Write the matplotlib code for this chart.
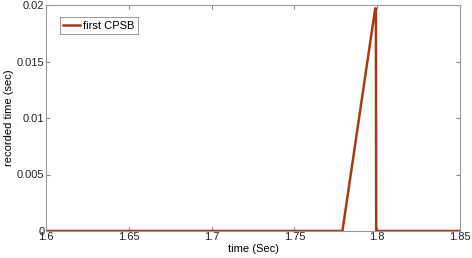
import matplotlib
matplotlib.use("Agg")
import matplotlib.pyplot as plt

time_s = [1.6, 1.779, 1.7988, 1.7992, 1.7994, 1.85]
recorded = [0.0, 0.0, 0.0197, 0.0197, 0.0, 0.0]
xticks = [1.6, 1.65, 1.7, 1.75, 1.8, 1.85]
xticklabels = ["1.6", "1.65", "1.7", "1.75", "1.8", "1.85"]
yticks = [0, 0.005, 0.01, 0.015, 0.02]
yticklabels = ["0", "0.005", "0.01", "0.015", "0.02"]

plt.rcParams['font.family'] = ['Liberation Sans', 'DejaVu Sans']
fig = plt.figure(figsize=(4.72, 2.58), dpi=100)
ax = fig.add_axes([46/472, 1-231/258, 414/472, 226/258])
ax.plot(time_s, recorded, color='#A83A12', lw=1.8, label='first CPSB')
ax.set_xlim(1.6, 1.85)
ax.set_ylim(0, 0.02)
ax.set_xticks(xticks)
ax.set_xticklabels(xticklabels)
ax.set_yticks(yticks)
ax.set_yticklabels(yticklabels)
ax.tick_params(direction='in', length=3, labelsize=8, colors='#222222', pad=1, top=True, right=True)
for s in ax.spines.values():
    s.set_color('#999999')
    s.set_linewidth(0.8)
ax.tick_params(axis='both', color='#888888')
ax.set_xlabel('time (Sec)', fontsize=8, labelpad=1)
ax.set_ylabel('recorded time (sec)', fontsize=8, labelpad=2)
leg = ax.legend(loc='upper left', fontsize=8, frameon=True, fancybox=False,
                edgecolor='#666666', handlelength=1.5, borderpad=0.3,
                handletextpad=0.3, bbox_to_anchor=(0.02, 0.97))
leg.get_frame().set_linewidth(0.6)
fig.savefig('out.png', dpi=100)
